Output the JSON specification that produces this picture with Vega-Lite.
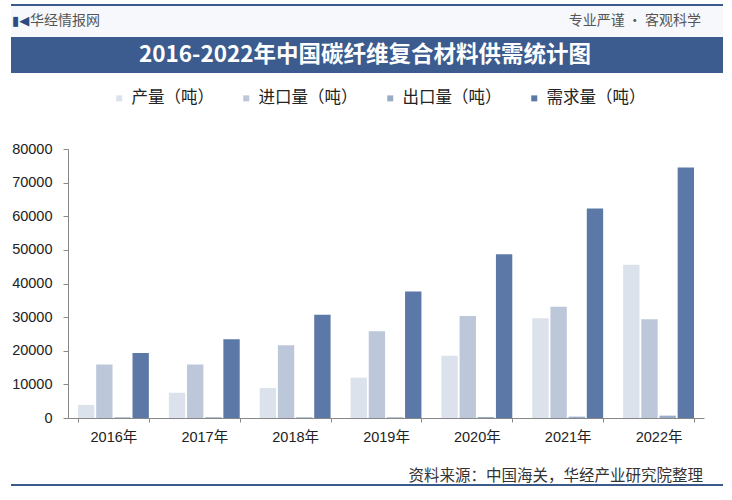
{
  "$schema": "https://vega.github.io/schema/vega-lite/v6.json",
  "background": "#ffffff",
  "padding": {"left": 10, "right": 10, "top": 4, "bottom": 0},
  "columns": 1,
  "spacing": 0,
  "resolve": {"scale": {"color": "independent"}, "legend": {"color": "independent"}},
  "config": {
    "view": {"stroke": null},
    "font": "Noto Sans CJK SC"
  },
  "datasets": {
    "supply": [
      {"year": "2016年", "type": "产量（吨）", "value": 3900},
      {"year": "2016年", "type": "进口量（吨）", "value": 15900},
      {"year": "2016年", "type": "出口量（吨）", "value": 200},
      {"year": "2016年", "type": "需求量（吨）", "value": 19300},
      {"year": "2017年", "type": "产量（吨）", "value": 7500},
      {"year": "2017年", "type": "进口量（吨）", "value": 15900},
      {"year": "2017年", "type": "出口量（吨）", "value": 200},
      {"year": "2017年", "type": "需求量（吨）", "value": 23400},
      {"year": "2018年", "type": "产量（吨）", "value": 8900},
      {"year": "2018年", "type": "进口量（吨）", "value": 21600},
      {"year": "2018年", "type": "出口量（吨）", "value": 200},
      {"year": "2018年", "type": "需求量（吨）", "value": 30700},
      {"year": "2019年", "type": "产量（吨）", "value": 12000},
      {"year": "2019年", "type": "进口量（吨）", "value": 25800},
      {"year": "2019年", "type": "出口量（吨）", "value": 200},
      {"year": "2019年", "type": "需求量（吨）", "value": 37600},
      {"year": "2020年", "type": "产量（吨）", "value": 18500},
      {"year": "2020年", "type": "进口量（吨）", "value": 30300},
      {"year": "2020年", "type": "出口量（吨）", "value": 300},
      {"year": "2020年", "type": "需求量（吨）", "value": 48700},
      {"year": "2021年", "type": "产量（吨）", "value": 29700},
      {"year": "2021年", "type": "进口量（吨）", "value": 33100},
      {"year": "2021年", "type": "出口量（吨）", "value": 400},
      {"year": "2021年", "type": "需求量（吨）", "value": 62300},
      {"year": "2022年", "type": "产量（吨）", "value": 45600},
      {"year": "2022年", "type": "进口量（吨）", "value": 29400},
      {"year": "2022年", "type": "出口量（吨）", "value": 700},
      {"year": "2022年", "type": "需求量（吨）", "value": 74500}
    ],
    "one": [{"logo": "▮◀", "site": "华经情报网", "motto": "专业严谨 • 客观科学", "title": "2016-2022年中国碳纤维复合材料供需统计图", "source": "资料来源：中国海关，华经产业研究院整理"}]
  },
  "concat": [
    {
      "width": 712,
      "height": 33,
      "data": {"name": "one"},
      "layer": [
        {"mark": {"type": "rect", "color": "#f6f8fb"}, "encoding": {}},
        {"mark": {"type": "rule", "color": "#3b5a8c", "strokeWidth": 2}, "encoding": {"y": {"value": 1}}},
        {"mark": {"type": "text", "align": "left", "fontSize": 13, "font": "DejaVu Sans", "color": "#2c4b80", "dx": 1}, "encoding": {"x": {"value": 0}, "text": {"field": "logo"}}},
        {"mark": {"type": "text", "align": "left", "fontSize": 14, "color": "#555555", "dx": 19}, "encoding": {"x": {"value": 0}, "text": {"field": "site"}}},
        {"mark": {"type": "text", "align": "right", "fontSize": 14, "color": "#555555", "dx": -22}, "encoding": {"x": {"value": "width"}, "text": {"field": "motto"}}}
      ]
    },
    {
      "width": 712,
      "height": 36,
      "data": {"name": "one"},
      "layer": [
        {"mark": {"type": "rect", "color": "#3c5b8e"}, "encoding": {}},
        {"mark": {"type": "text", "fontSize": 22.5, "fontWeight": "bold", "color": "#ffffff", "dx": -2}, "encoding": {"text": {"field": "title"}}}
      ]
    },
    {
      "width": 693,
      "height": 269,
      "data": {"name": "supply"},
      "mark": {"type": "bar"},
      "encoding": {
        "x": {
          "field": "year",
          "type": "nominal",
          "title": null,
          "scale": {"paddingInner": 0.22, "paddingOuter": 0.11, "rangeMin": 57},
          "axis": {"labelAngle": 0, "labelFontSize": 14.5, "labelColor": "#222222", "labelFont": "Liberation Sans, Noto Sans CJK SC", "domainColor": "#888888", "tickColor": "#888888", "tickBand": "extent", "tickSize": 4, "labelPadding": 8}
        },
        "xOffset": {"field": "type", "type": "nominal", "sort": ["产量（吨）", "进口量（吨）", "出口量（吨）", "需求量（吨）"], "scale": {"paddingInner": 0.1}},
        "y": {
          "field": "value",
          "type": "quantitative",
          "title": null,
          "scale": {"domain": [0, 80000]},
          "axis": {"offset": -57, "grid": false, "tickCount": 8, "format": "d", "labelFontSize": 14.5, "labelColor": "#222222", "labelFont": "Liberation Sans", "domainColor": "#888888", "tickColor": "#888888", "tickSize": 5, "labelPadding": 11}
        },
        "color": {
          "field": "type",
          "type": "nominal",
          "sort": ["产量（吨）", "进口量（吨）", "出口量（吨）", "需求量（吨）"],
          "scale": {"domain": ["产量（吨）", "进口量（吨）", "出口量（吨）", "需求量（吨）"], "range": ["#dce2ec", "#bcc7d9", "#98abc7", "#5b78a6"]},
          "legend": {"title": null, "orient": "none", "legendX": 83, "legendY": -76, "padding": 17, "direction": "horizontal", "symbolType": "square", "symbolSize": 36, "labelFontSize": 16.5, "labelColor": "#222222", "labelOffset": 4, "columnPadding": 24, "symbolStrokeWidth": 0}
        }
      }
    },
    {
      "width": 712,
      "height": 41,
      "data": {"name": "one"},
      "layer": [
        {"mark": {"type": "rule", "color": "#3b5a8c", "strokeWidth": 2}, "encoding": {"y": {"value": "height"}}},
        {"mark": {"type": "text", "align": "right", "fontSize": 15.5, "color": "#333333", "dx": -20, "dy": 11}, "encoding": {"x": {"value": "width"}, "text": {"field": "source"}}}
      ]
    }
  ]
}
